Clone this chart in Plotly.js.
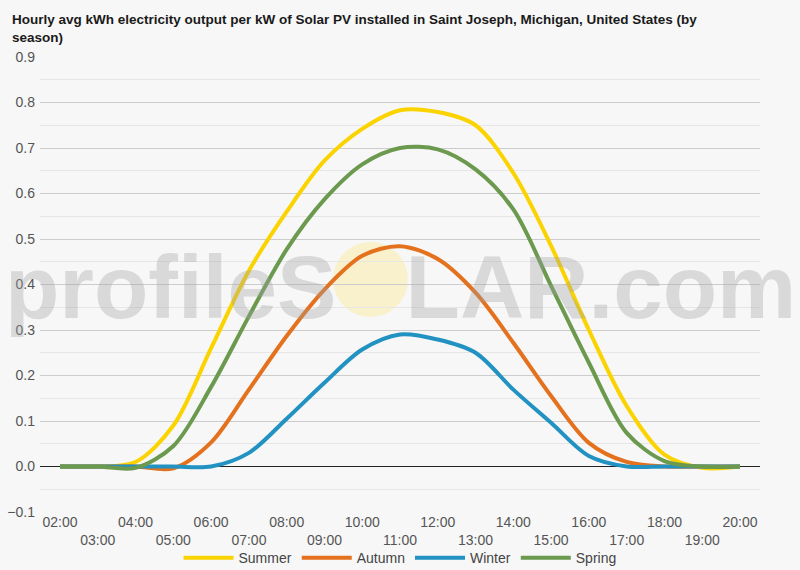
<!DOCTYPE html>
<html>
<head>
<meta charset="utf-8">
<script src="https://cdn.plot.ly/plotly-3.0.1.min.js"></script>
<style>
  html, body { margin: 0; padding: 0; background: #f7f7f7; }
  #chart { width: 800px; height: 570px; }
</style>
</head>
<body>
<div id="chart"></div>
<script>
// hours of the day (02:00 .. 20:00)
var hours = [2, 3, 4, 5, 6, 7, 8, 9, 10, 11, 12, 13, 14, 15, 16, 17, 18, 19, 20];
var hourLabels = ['02:00', '03:00', '04:00', '05:00', '06:00', '07:00', '08:00', '09:00', '10:00',
                  '11:00', '12:00', '13:00', '14:00', '15:00', '16:00', '17:00', '18:00', '19:00', '20:00'];

// avg kWh per kW installed
var summer = [0, 0, 0.01, 0.09, 0.26, 0.43, 0.56, 0.672, 0.742, 0.783, 0.779, 0.75, 0.645, 0.485, 0.30, 0.133, 0.026, -0.003, 0];
var autumn = [0, 0, 0, -0.004, 0.053, 0.169, 0.287, 0.389, 0.463, 0.484, 0.456, 0.382, 0.272, 0.155, 0.052, 0.01, 0, 0, 0];
var winter = [0, 0, 0, 0, 0, 0.03, 0.105, 0.184, 0.257, 0.29, 0.279, 0.25, 0.169, 0.096, 0.023, 0, 0, 0, 0];
var spring = [0, 0, -0.003, 0.045, 0.175, 0.33, 0.477, 0.587, 0.664, 0.70, 0.697, 0.653, 0.565, 0.397, 0.228, 0.074, 0.012, 0, 0];

var seasonNames = ['Summer', 'Autumn', 'Winter', 'Spring'];
var seasonColors = ['#fad300', '#e4711d', '#2192c1', '#6b9a4f'];
var seasonValues = [summer, autumn, winter, spring];

// odd hours go on a second row under the axis
var tickText = hourLabels.map(function(l, i){ return i % 2 ? '<br>' + l : l; });

var data = seasonNames.map(function(name, i){
  return {
    x: hours,
    y: seasonValues[i],
    name: name,
    type: 'scatter',
    mode: 'lines',
    line: {color: seasonColors[i], width: 4, shape: 'spline', smoothing: 0.9}
  };
});

var layout = {
  width: 800,
  height: 570,
  paper_bgcolor: '#f7f7f7',
  plot_bgcolor: '#f7f7f7',
  font: {family: 'Liberation Sans, Arial, sans-serif', size: 14, color: '#555'},
  margin: {l: 40, r: 40, t: 57, b: 58, autoexpand: false},
  title: {
    text: '<b>Hourly avg kWh electricity output per kW of Solar PV installed in Saint Joseph, Michigan, United States (by<br>season)</b>',
    font: {size: 13.5, color: '#1a1a1a'},
    x: 12 / 800, xref: 'container', xanchor: 'left',
    y: 1 - 24 / 570, yref: 'container', yanchor: 'top'
  },
  showlegend: true,
  legend: {
    orientation: 'h',
    x: 0.5, xanchor: 'center',
    y: -0.066, yanchor: 'top',
    bgcolor: 'rgba(0,0,0,0)',
    font: {size: 14, color: '#444'},
    itemwidth: 50,
    tracegroupgap: 0
  },
  xaxis: {
    range: [1.47, 20.53],
    tickmode: 'array',
    tickvals: hours,
    ticktext: tickText,
    showgrid: false,
    zeroline: false,
    showline: false,
    ticks: '',
    tickfont: {size: 14, color: '#555'}
  },
  yaxis: {
    range: [-0.1, 0.9],
    dtick: 0.1,
    tickformat: '.1f',
    showgrid: true,
    gridcolor: '#cccccc',
    gridwidth: 1,
    minor: {dtick: 0.05, showgrid: true, gridcolor: '#e6e6e6', gridwidth: 1},
    zeroline: true,
    zerolinecolor: '#222',
    zerolinewidth: 1,
    ticks: '',
    ticklabelstandoff: 4,
    tickfont: {size: 14, color: '#555'}
  },
  shapes: [{
    type: 'circle',
    xref: 'paper', yref: 'paper',
    x0: (333 - 40) / 720, x1: (408 - 40) / 720,
    y0: (512 - 317) / 455, y1: (512 - 242) / 455,
    fillcolor: 'rgba(250,236,170,0.55)',
    line: {width: 0},
    layer: 'below'
  }],
  annotations: [{
    text: '<b>profileS<span style="color:rgba(0,0,0,0)">O</span>LAR.com</b>',
    xref: 'paper', yref: 'paper',
    x: 0.5, xanchor: 'center',
    y: (512 - 287) / 455, yanchor: 'middle',
    showarrow: false,
    font: {family: 'Liberation Sans, Arial, sans-serif', size: 89, color: 'rgba(160,160,160,0.35)'}
  }]
};

Plotly.newPlot('chart', data, layout, {displayModeBar: false});
</script>
</body>
</html>
